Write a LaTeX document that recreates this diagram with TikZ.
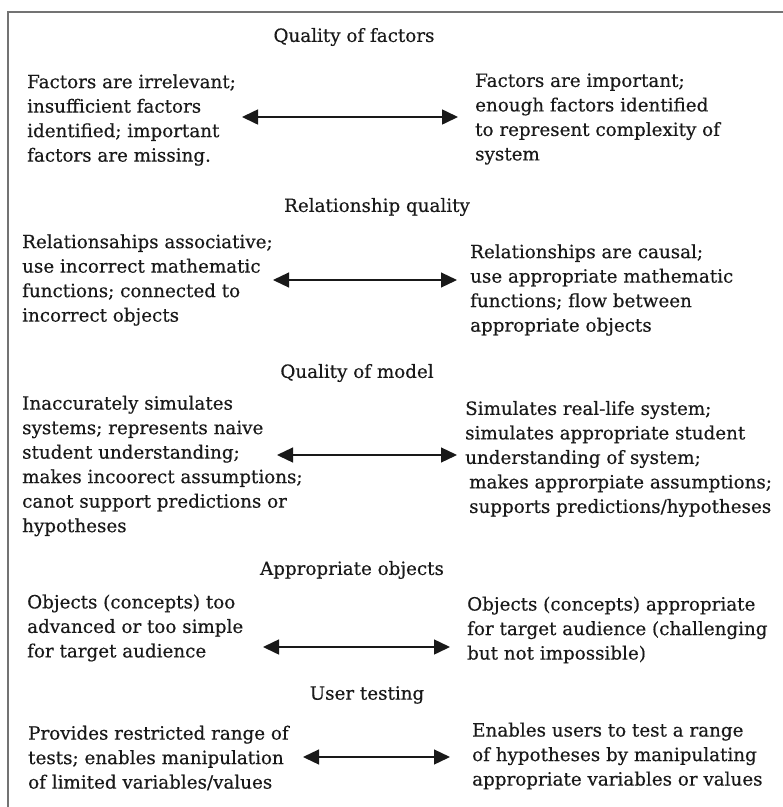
\documentclass[tikz,border=0pt]{standalone}
\usepackage{fontspec}
\setmainfont{DejaVu Serif}[FakeBold=0.4]
\usetikzlibrary{arrows.meta}
\begin{document}
\begin{tikzpicture}[x=1pt,y=-1pt,
  txt/.style={anchor=west, align=left, inner sep=0pt, text=black!90,
    font=\fontsize{18.3}{24.5}\selectfont},
  ttl/.style={anchor=center, inner sep=0pt, text=black!90,
    font=\fontsize{18.3}{24.5}\selectfont},
  dbl/.style={{Triangle[length=16pt,width=15pt]}-{Triangle[length=16pt,width=15pt]}, line width=1.6pt, black!90},
  frame/.style={draw=black!55, line width=1.6pt}]
\useasboundingbox (0,0) rectangle (783,807);
\draw[frame] (8,807) -- (8,12) -- (783,12);

% Section 1
\node[ttl] (t1) at (354,37) {Quality of factors};
\node[txt] (l1) at (27,120) {Factors are irrelevant;\\insufficient factors\\identified; important\\factors are missing.};
\node[txt] (r1) at (475,119) {Factors are important;\\enough factors identified\\to represent complexity of\\system};
\coordinate (a1l) at (242,117);
\coordinate (a1r) at (458,117);
\draw[dbl] (a1l) -- (a1r);

% Section 2
\node[ttl] (t2) at (377,207) {Relationship quality};
\node[txt] (l2) at (22,280) {Relationsahips associative;\\use incorrect mathematic\\functions; connected to\\incorrect objects};
\node[txt] (r2) at (470,290) {Relationships are causal;\\use appropriate mathematic\\functions; flow between\\appropriate objects};
\coordinate (a2l) at (273,280);
\coordinate (a2r) at (457,280);
\draw[dbl, line width=1.2pt] (a2l) -- (a2r);

% Section 3
\node[ttl] (t3) at (357,373) {Quality of model};
\node[txt] (l3) at (22,466) {Inaccurately simulates\\systems; represents naive\\student understanding;\\makes incoorect assumptions;\\canot support predictions or\\hypotheses};
\node[txt] (r3) at (465,459) {Simulates real-life system;\\simulates appropriate student\\understanding of system;\\\hspace*{4pt}makes approrpiate assumptions;\\\hspace*{4pt}supports predictions/hypotheses};
\coordinate (a3l) at (277,455);
\coordinate (a3r) at (457,455);
\draw[dbl, line width=1.3pt] (a3l) -- (a3r);

% Section 4
\node[ttl] (t4) at (352,570) {Appropriate objects};
\node[txt] (l4) at (27,628) {Objects (concepts) too\\advanced or too simple\\for target audience};
\node[txt] (r4) at (467,630) {Objects (concepts) appropriate\\for target audience (challenging\\but not impossible)};
\coordinate (a4l) at (263,647);
\coordinate (a4r) at (450,647);
\draw[dbl, line width=1.5pt] (a4l) -- (a4r);

% Section 5
\node[ttl] (t5) at (367,695) {User testing};
\node[txt] (l5) at (28,758) {Provides restricted range of\\tests; enables manipulation\\of limited variables/values};
\node[txt] (r5) at (472,756) {Enables users to test a range\\of hypotheses by manipulating\\appropriate variables or values};
\coordinate (a5l) at (303,757);
\coordinate (a5r) at (450,757);
\draw[dbl, line width=1.3pt] (a5l) -- (a5r);
\end{tikzpicture}
\end{document}
